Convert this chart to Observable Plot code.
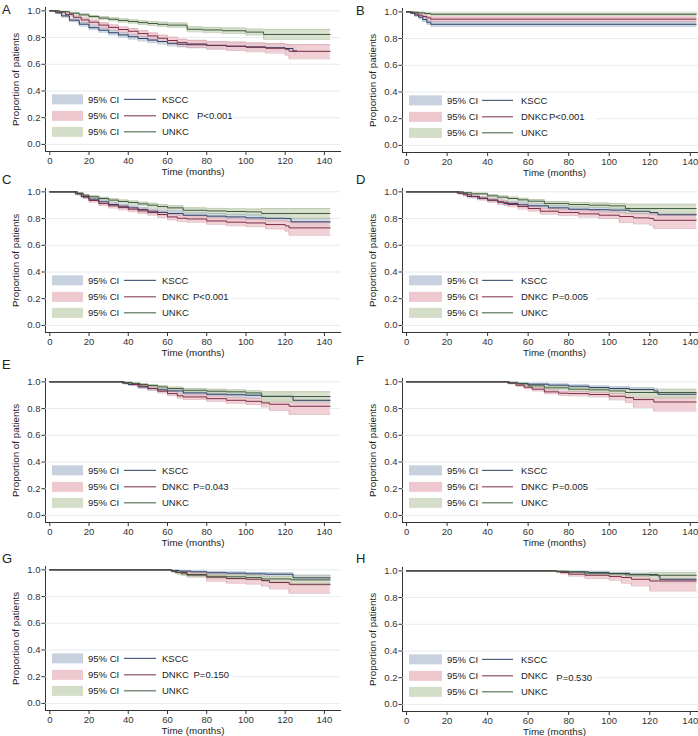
<!DOCTYPE html>
<html><head><meta charset="utf-8">
<script src="https://cdn.jsdelivr.net/npm/d3@7"></script>
<script src="https://cdn.jsdelivr.net/npm/@observablehq/plot@0.6"></script>
<style>
body{margin:0;background:#fff;}
#wrap{position:relative;width:698px;height:736px;overflow:hidden;background:#fff;font-family:"Liberation Sans",Arial,sans-serif;color:#222;}
.panel{position:absolute;}
.panel svg{max-width:none !important;}
.letter{position:absolute;font-size:13px;line-height:16px;color:#222;}
</style></head><body><div id="wrap"></div>
<script>
// ---------- data: rows are [time, survival, lower 95% CI, upper 95% CI] ----------
const groups = ["KSCC", "DNKC", "UNKC"];
const panelLetters = ["A", "B", "C", "D", "E", "F", "G", "H"];
const pValues = ["P<0.001", "P<0.001", "P<0.001", "P=0.005", "P=0.043", "P=0.005", "P=0.150", "P=0.530"];
const xTicks = [0, 20, 40, 60, 80, 100, 120, 140];
const yTicks = [0, 0.2, 0.4, 0.6, 0.8, 1.0];

const A_KSCC = [[0,1,1,1],[3,0.985,0.978,0.991],[6,0.962,0.952,0.971],[10,0.93,0.918,0.941],[15,0.9,0.886,0.913],[20,0.874,0.859,0.888],[25,0.855,0.839,0.87],[30,0.836,0.819,0.852],[35,0.82,0.803,0.836],[40,0.806,0.788,0.823],[45,0.793,0.775,0.81],[50,0.781,0.762,0.799],[55,0.77,0.751,0.788],[60,0.757,0.737,0.776],[65,0.75,0.73,0.77],[70,0.746,0.725,0.766],[80,0.74,0.719,0.761],[90,0.735,0.713,0.756],[100,0.73,0.707,0.752],[110,0.724,0.7,0.747],[120,0.718,0.693,0.742],[124,0.7,0.672,0.727],[126,0.7,0.672,0.727]];
const A_DNKC = [[0,1,1,1],[4,0.99,0.982,0.996],[8,0.972,0.96,0.982],[12,0.952,0.938,0.964],[16,0.932,0.916,0.947],[20,0.915,0.898,0.931],[25,0.893,0.875,0.91],[30,0.876,0.857,0.894],[35,0.86,0.84,0.879],[40,0.847,0.826,0.867],[45,0.83,0.808,0.851],[50,0.812,0.789,0.834],[55,0.795,0.771,0.818],[60,0.778,0.752,0.803],[65,0.762,0.735,0.788],[70,0.752,0.724,0.779],[80,0.742,0.712,0.771],[90,0.735,0.703,0.766],[100,0.727,0.693,0.76],[110,0.72,0.684,0.755],[120,0.712,0.667,0.75],[122,0.697,0.641,0.747],[143,0.697,0.641,0.747]];
const A_UNKC = [[0,1,1,1],[5,0.993,0.988,0.997],[10,0.982,0.975,0.988],[15,0.97,0.961,0.978],[20,0.957,0.947,0.966],[25,0.946,0.935,0.956],[30,0.937,0.925,0.948],[35,0.928,0.915,0.94],[40,0.92,0.907,0.933],[45,0.912,0.898,0.925],[50,0.905,0.89,0.919],[55,0.899,0.883,0.914],[60,0.893,0.876,0.909],[70,0.862,0.843,0.88],[78,0.857,0.837,0.876],[88,0.851,0.83,0.871],[100,0.841,0.818,0.863],[109,0.823,0.786,0.861],[143,0.823,0.786,0.861]];

const B_KSCC = [[0,1,1,1],[2,0.99,0.984,0.995],[4,0.975,0.965,0.984],[6,0.96,0.948,0.971],[8,0.942,0.928,0.955],[10,0.922,0.906,0.937],[12,0.907,0.89,0.924],[143,0.907,0.89,0.924]];
const B_DNKC = [[0,1,1,1],[2,0.995,0.991,0.998],[4,0.985,0.978,0.991],[6,0.975,0.966,0.983],[8,0.965,0.953,0.975],[10,0.955,0.941,0.967],[12,0.945,0.928,0.961],[143,0.945,0.928,0.961]];
const B_UNKC = [[0,1,1,1],[3,0.997,0.994,0.999],[6,0.992,0.987,0.996],[9,0.987,0.98,0.992],[12,0.982,0.973,0.99],[143,0.982,0.973,0.99]];

const C_KSCC = [[0,1,1,1],[13,0.985,0.978,0.991],[16,0.965,0.955,0.974],[20,0.945,0.933,0.956],[25,0.925,0.912,0.938],[30,0.905,0.891,0.919],[35,0.892,0.877,0.906],[40,0.88,0.864,0.895],[45,0.867,0.85,0.883],[50,0.855,0.838,0.872],[55,0.846,0.828,0.863],[60,0.838,0.82,0.856],[68,0.825,0.806,0.844],[80,0.818,0.798,0.838],[90,0.812,0.791,0.833],[100,0.805,0.783,0.827],[110,0.802,0.779,0.825],[120,0.8,0.776,0.824],[123,0.775,0.745,0.804],[143,0.775,0.745,0.804]];
const C_DNKC = [[0,1,1,1],[14,0.985,0.978,0.991],[17,0.96,0.95,0.969],[20,0.935,0.922,0.947],[25,0.912,0.897,0.926],[30,0.895,0.879,0.91],[35,0.882,0.865,0.898],[40,0.87,0.852,0.887],[45,0.857,0.838,0.875],[50,0.845,0.825,0.864],[55,0.83,0.809,0.85],[60,0.812,0.79,0.833],[65,0.802,0.779,0.824],[70,0.797,0.773,0.82],[80,0.782,0.757,0.806],[90,0.773,0.746,0.798],[100,0.767,0.739,0.793],[110,0.755,0.722,0.785],[120,0.745,0.705,0.78],[122,0.73,0.675,0.775],[143,0.73,0.675,0.775]];
const C_UNKC = [[0,1,1,1],[14,0.99,0.985,0.994],[17,0.975,0.968,0.981],[20,0.963,0.954,0.971],[25,0.95,0.94,0.959],[30,0.938,0.927,0.948],[35,0.928,0.916,0.939],[40,0.92,0.907,0.932],[45,0.91,0.896,0.923],[50,0.9,0.885,0.914],[55,0.89,0.874,0.905],[60,0.88,0.863,0.896],[68,0.862,0.843,0.88],[80,0.857,0.837,0.876],[90,0.853,0.832,0.873],[100,0.85,0.828,0.871],[108,0.838,0.8,0.875],[143,0.838,0.8,0.875]];

const D_KSCC = [[0,1,1,1],[26,0.99,0.985,0.995],[30,0.965,0.955,0.974],[35,0.952,0.941,0.962],[40,0.938,0.925,0.95],[45,0.925,0.911,0.938],[48,0.913,0.898,0.927],[55,0.903,0.887,0.918],[60,0.895,0.878,0.911],[70,0.88,0.862,0.897],[80,0.87,0.851,0.888],[90,0.866,0.846,0.885],[100,0.863,0.842,0.883],[110,0.855,0.833,0.876],[120,0.845,0.821,0.868],[124,0.828,0.8,0.855],[143,0.828,0.8,0.855]];
const D_DNKC = [[0,1,1,1],[25,0.99,0.984,0.995],[28,0.978,0.969,0.986],[32,0.965,0.954,0.975],[36,0.952,0.939,0.963],[40,0.938,0.924,0.951],[45,0.922,0.906,0.937],[50,0.905,0.888,0.921],[55,0.89,0.871,0.907],[60,0.875,0.855,0.894],[66,0.855,0.833,0.876],[75,0.845,0.822,0.867],[85,0.835,0.811,0.858],[95,0.825,0.8,0.849],[105,0.815,0.77,0.845],[112,0.805,0.76,0.838],[120,0.8,0.75,0.832],[122,0.787,0.725,0.83],[143,0.787,0.725,0.83]];
const D_UNKC = [[0,1,1,1],[28,0.993,0.988,0.997],[32,0.985,0.978,0.991],[40,0.97,0.96,0.979],[45,0.96,0.949,0.97],[50,0.95,0.938,0.961],[55,0.94,0.927,0.952],[60,0.93,0.916,0.943],[68,0.913,0.897,0.928],[80,0.905,0.888,0.921],[90,0.9,0.882,0.917],[100,0.895,0.876,0.913],[108,0.875,0.838,0.907],[143,0.875,0.838,0.907]];

const E_KSCC = [[0,1,1,1],[37,0.99,0.985,0.995],[40,0.98,0.972,0.987],[45,0.962,0.951,0.972],[50,0.95,0.937,0.961],[55,0.94,0.926,0.952],[60,0.932,0.917,0.945],[68,0.917,0.901,0.932],[80,0.907,0.89,0.923],[90,0.903,0.885,0.919],[100,0.9,0.881,0.917],[108,0.892,0.872,0.91],[124,0.862,0.832,0.889],[143,0.862,0.832,0.889]];
const E_DNKC = [[0,1,1,1],[38,0.992,0.987,0.996],[42,0.98,0.972,0.987],[46,0.967,0.957,0.976],[50,0.95,0.938,0.961],[55,0.93,0.916,0.943],[60,0.912,0.896,0.927],[65,0.895,0.877,0.911],[68,0.887,0.868,0.904],[80,0.874,0.854,0.893],[90,0.862,0.84,0.882],[100,0.854,0.83,0.875],[108,0.842,0.812,0.868],[112,0.832,0.786,0.865],[122,0.817,0.756,0.862],[143,0.817,0.756,0.862]];
const E_UNKC = [[0,1,1,1],[38,0.995,0.991,0.998],[42,0.988,0.982,0.993],[46,0.98,0.972,0.987],[50,0.972,0.963,0.98],[55,0.962,0.951,0.971],[60,0.95,0.938,0.961],[68,0.937,0.923,0.95],[80,0.93,0.915,0.944],[90,0.925,0.909,0.94],[100,0.917,0.9,0.933],[108,0.89,0.85,0.925],[143,0.89,0.85,0.925]];

const F_KSCC = [[0,1,1,1],[50,0.993,0.988,0.997],[55,0.987,0.98,0.993],[60,0.982,0.974,0.989],[70,0.975,0.965,0.984],[80,0.967,0.956,0.977],[90,0.957,0.944,0.969],[100,0.95,0.936,0.963],[110,0.942,0.927,0.956],[122,0.932,0.915,0.948],[124,0.907,0.878,0.932],[143,0.907,0.878,0.932]];
const F_DNKC = [[0,1,1,1],[50,0.99,0.984,0.995],[54,0.975,0.966,0.983],[58,0.96,0.949,0.97],[62,0.945,0.932,0.957],[68,0.925,0.91,0.939],[75,0.915,0.899,0.93],[80,0.912,0.895,0.927],[90,0.905,0.887,0.921],[100,0.892,0.865,0.912],[108,0.882,0.845,0.905],[112,0.867,0.81,0.9],[122,0.849,0.781,0.892],[143,0.849,0.781,0.892]];
const F_UNKC = [[0,1,1,1],[51,0.993,0.988,0.997],[55,0.985,0.978,0.991],[60,0.97,0.961,0.978],[68,0.955,0.944,0.965],[80,0.945,0.932,0.957],[90,0.94,0.926,0.953],[100,0.932,0.917,0.946],[108,0.92,0.88,0.945],[143,0.92,0.88,0.945]];

const G_KSCC = [[0,1,1,1],[62,0.995,0.99,0.998],[66,0.99,0.984,0.995],[72,0.985,0.977,0.991],[80,0.978,0.969,0.986],[90,0.975,0.965,0.984],[100,0.97,0.959,0.98],[110,0.967,0.955,0.978],[124,0.94,0.917,0.96],[143,0.94,0.917,0.96]];
const G_DNKC = [[0,1,1,1],[62,0.99,0.984,0.995],[65,0.98,0.968,0.989],[70,0.965,0.947,0.978],[80,0.945,0.915,0.968],[90,0.935,0.9,0.96],[100,0.93,0.893,0.958],[108,0.92,0.878,0.952],[112,0.905,0.857,0.94],[122,0.892,0.825,0.935],[143,0.892,0.825,0.935]];
const G_UNKC = [[0,1,1,1],[62,0.99,0.984,0.995],[64,0.98,0.971,0.987],[67,0.97,0.958,0.979],[70,0.96,0.947,0.971],[80,0.952,0.937,0.965],[90,0.948,0.932,0.962],[100,0.943,0.926,0.958],[108,0.932,0.912,0.95],[123,0.925,0.885,0.955],[143,0.925,0.885,0.955]];

const H_KSCC = [[0,1,1,1],[74,0.996,0.992,0.999],[80,0.992,0.986,0.996],[90,0.987,0.979,0.993],[100,0.98,0.97,0.988],[110,0.972,0.96,0.982],[124,0.962,0.948,0.974],[125,0.937,0.91,0.958],[143,0.937,0.91,0.958]];
const H_DNKC = [[0,1,1,1],[74,0.993,0.988,0.997],[76,0.987,0.978,0.993],[80,0.975,0.96,0.986],[88,0.967,0.942,0.98],[100,0.957,0.93,0.975],[106,0.95,0.907,0.972],[111,0.937,0.887,0.97],[120,0.924,0.849,0.967],[143,0.924,0.849,0.967]];
const H_UNKC = [[0,1,1,1],[74,0.996,0.992,0.999],[78,0.992,0.986,0.996],[88,0.982,0.973,0.989],[100,0.977,0.966,0.986],[108,0.97,0.957,0.981],[120,0.967,0.937,0.987],[143,0.967,0.937,0.987]];

const panelSeries = [
  [A_KSCC, A_DNKC, A_UNKC], [B_KSCC, B_DNKC, B_UNKC],
  [C_KSCC, C_DNKC, C_UNKC], [D_KSCC, D_DNKC, D_UNKC],
  [E_KSCC, E_DNKC, E_UNKC], [F_KSCC, F_DNKC, F_UNKC],
  [G_KSCC, G_DNKC, G_UNKC], [H_KSCC, H_DNKC, H_UNKC]
];

// ---------- styling / layout ----------
const bandFill = ["#c7d2de", "#eec8cf", "#d3ddc7"];
const bandEdge = ["#9fb0c6", "#d09aa6", "#a9ba9b"];
const lineColor = ["#2c3d66", "#7a2c44", "#3d5a3e"];
const panelTop = [0.7, 1.7, 182.4, 182.4, 372.4, 372.4, 560, 561];
const letterTop = [2, 3, 172, 172, 357, 353, 551, 551];
const pX = [197, 200, 193, 203.3, 193, 203.3, 193.5, 207.3];
const pDy = [0, 0, 0, 0, 0, 0, 0, 2];

const wrap = document.getElementById("wrap");
const font = "'Liberation Sans', Arial, sans-serif";
const fs = 9.5;

panelSeries.forEach((series, i) => {
  const right = i % 2 === 1;
  const width = right ? 365 : 349;
  const marginLeft = right ? 53 : 45;
  const marginRight = right ? 8 : 9;
  const xDomain = right ? [-2, 148] : [-2.2, 148.2];
  const marks = [Plot.gridY(yTicks, {stroke: "#dfe7ec", strokeOpacity: 1, strokeWidth: 0.8})];
  series.forEach((data, g) => {
    marks.push(Plot.areaY(data, {x: d => d[0], y1: d => d[2], y2: d => d[3], curve: "step-after", fill: bandFill[g], fillOpacity: 0.85}));
    marks.push(Plot.lineY(data, {x: d => d[0], y: d => d[2], curve: "step-after", stroke: bandEdge[g], strokeWidth: 0.6}));
    marks.push(Plot.lineY(data, {x: d => d[0], y: d => d[3], curve: "step-after", stroke: bandEdge[g], strokeWidth: 0.6}));
  });
  series.forEach((data, g) => {
    marks.push(Plot.lineY(data, {x: d => d[0], y: d => d[1], curve: "step-after", stroke: lineColor[g], strokeWidth: 1}));
  });
  marks.push(Plot.text(["Time (months)"], {text: d => d, frameAnchor: "bottom", dy: 20, lineAnchor: "middle", textAnchor: "middle", fontSize: fs + 0.3, fill: "#222"}));
  marks.push(Plot.text(["Proportion of patients"], {text: d => d, frameAnchor: "left", dx: -30, rotate: -90, textAnchor: "middle", lineAnchor: "middle", fontSize: fs + 0.3, fill: "#222"}));

  const svg = Plot.plot({
    width, height: 182,
    marginTop: 6, marginBottom: 32, marginLeft, marginRight,
    style: {fontFamily: font, fontSize: fs + "px", color: "#333", background: "transparent", overflow: "visible", maxWidth: "none"},
    x: {domain: xDomain, ticks: xTicks, tickSize: 4, tickPadding: 2, line: true, label: null},
    y: {domain: [-0.053, 1.025], ticks: yTicks, tickFormat: d3.format(".1f"), tickSize: 3.5, tickPadding: 1.5, line: true, label: null},
    marks
  });

  // legend (drawn inside the plot area, relative to the y=1.0 line)
  const y1 = svg.scale("y").apply(1);
  const L = right
    ? {rx: 60, rw: 33, tx: 98, lx1: 133, lx2: 164, gx: 172, boxL: 54, boxR: 246}
    : {rx: 52, rw: 31, tx: 88, lx1: 124, lx2: 156, gx: 162, boxL: 46, boxR: 233};
  const leg = d3.select(svg).append("g").attr("font-family", font).attr("font-size", fs)
    .attr("fill", "#222").attr("text-anchor", "start");
  leg.append("rect").attr("x", L.boxL).attr("y", y1 + 82).attr("width", L.boxR - L.boxL).attr("height", 46).attr("fill", "#fff");
  const rowY = [y1 + 89, y1 + 105.5, y1 + 121.5];
  groups.forEach((name, g) => {
    const cy = rowY[g];
    leg.append("rect").attr("x", L.rx).attr("y", cy - 5).attr("width", L.rw).attr("height", 10).attr("fill", bandFill[g]);
    leg.append("text").attr("x", L.tx).attr("y", cy).attr("dy", "0.35em").text("95% CI");
    leg.append("line").attr("x1", L.lx1).attr("x2", L.lx2).attr("y1", cy).attr("y2", cy).attr("stroke", lineColor[g]).attr("stroke-width", 1);
    leg.append("text").attr("x", L.gx).attr("y", cy).attr("dy", "0.35em").text(name);
  });
  leg.append("text").attr("x", pX[i]).attr("y", rowY[1] + pDy[i]).attr("dy", "0.35em").text(pValues[i]);

  const div = document.createElement("div");
  div.className = "panel";
  div.style.left = (right ? 349 : 0) + "px";
  div.style.top = panelTop[i] + "px";
  div.style.width = width + "px";
  div.appendChild(svg);
  wrap.appendChild(div);

  const letter = document.createElement("div");
  letter.className = "letter";
  letter.style.left = (right ? 356 : 2) + "px";
  letter.style.top = letterTop[i] + "px";
  letter.textContent = panelLetters[i];
  wrap.appendChild(letter);
});
</script>
</body></html>
